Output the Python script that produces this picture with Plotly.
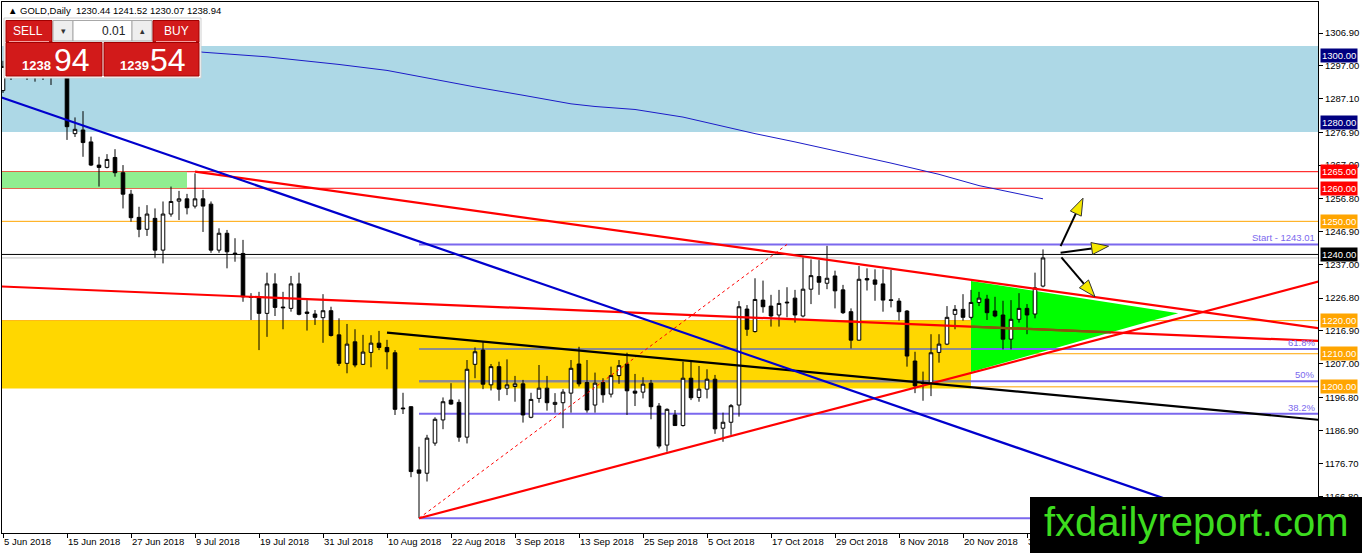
import math
import pandas as pd
import plotly.graph_objects as go

# ---------------- data ----------------
dates = list(pd.bdate_range("2018-06-05", "2018-12-04"))

opens = [1289.5, 1296.8, 1297.5, 1298.6, 1297.9, 1299.0, 1294.3, 1299.2, 1302.3, 1276.5,
         1277.6, 1274.0, 1267.0, 1266.3, 1269.3, 1264.7, 1258.2, 1251.2, 1247.6, 1250.9,
         1241.3, 1252.2, 1256.1, 1256.8, 1254.6, 1256.8, 1255.2, 1241.3, 1246.4, 1240.4,
         1240.3, 1227.3, 1227.2, 1222.2, 1231.1, 1224.1, 1223.7, 1231.1, 1222.6, 1222.0,
         1220.9, 1223.0, 1215.7, 1207.1, 1213.6, 1206.8, 1210.4, 1213.2, 1211.9, 1210.3,
         1193.6, 1194.0, 1174.9, 1173.9, 1183.0, 1190.0, 1196.0, 1195.3, 1184.8, 1206.8,
         1211.1, 1200.6, 1206.1, 1199.6, 1200.1, 1200.9, 1190.8, 1196.5, 1199.6, 1194.7,
         1195.2, 1198.1, 1206.9, 1201.3, 1194.5, 1201.3, 1197.8, 1203.4, 1206.9, 1198.7,
         1198.4, 1201.1, 1194.2, 1182.4, 1191.5, 1188.3, 1202.6, 1196.8, 1199.3, 1202.3,
         1187.5, 1189.3, 1194.5, 1223.5, 1216.7, 1226.2, 1224.4, 1221.7, 1225.6, 1226.8,
         1221.4, 1229.5, 1233.3, 1231.3, 1233.5, 1229.3, 1222.7, 1214.1, 1232.7, 1232.3,
         1231.1, 1226.3, 1225.9, 1222.9, 1207.8, 1201.2, 1201.1, 1210.4, 1212.9, 1221.9,
         1223.4, 1221.0, 1225.5, 1226.5, 1222.9, 1221.7, 1214.4, 1220.4, 1223.7, 1222.0,
         1230.44]
highs = [1298.5, 1300.5, 1303.0, 1302.5, 1301.8, 1300.5, 1300.0, 1309.0, 1307.5, 1281.4,
         1283.3, 1275.6, 1269.5, 1270.3, 1271.8, 1267.0, 1259.5, 1254.4, 1254.9, 1253.9,
         1256.0, 1260.5, 1259.2, 1258.3, 1264.5, 1259.5, 1256.0, 1247.9, 1247.4, 1244.9,
         1244.4, 1228.3, 1228.7, 1234.5, 1234.3, 1228.7, 1233.5, 1234.5, 1226.2, 1223.2,
         1228.0, 1224.2, 1220.7, 1219.0, 1217.4, 1215.7, 1215.6, 1216.9, 1214.2, 1211.1,
         1198.2, 1194.1, 1181.9, 1185.5, 1190.8, 1196.8, 1201.1, 1196.2, 1208.1, 1211.9,
         1213.6, 1206.9, 1207.6, 1208.3, 1203.3, 1202.1, 1198.2, 1206.6, 1203.3, 1198.1,
         1199.3, 1208.1, 1212.1, 1208.1, 1204.3, 1202.6, 1206.1, 1208.1, 1210.3, 1203.9,
         1202.9, 1202.1, 1195.1, 1193.5, 1193.0, 1207.6, 1207.6, 1206.3, 1205.3, 1203.6,
         1192.2, 1194.8, 1225.9, 1224.7, 1232.8, 1232.1, 1227.8, 1229.3, 1230.1, 1229.3,
         1239.1, 1238.5, 1238.3, 1242.6, 1235.1, 1230.8, 1223.7, 1236.5, 1235.8, 1235.5,
         1235.5, 1235.3, 1226.8, 1223.2, 1210.6, 1204.6, 1215.9, 1215.9, 1224.4, 1224.7,
         1228.0, 1229.3, 1228.7, 1227.8, 1227.2, 1226.0, 1226.2, 1228.3, 1225.0, 1234.5,
         1241.52]
lows = [1288.8, 1292.7, 1294.5, 1292.7, 1292.2, 1292.7, 1291.2, 1296.0, 1274.6, 1275.5,
        1269.5, 1266.7, 1260.5, 1266.0, 1263.5, 1253.9, 1249.9, 1245.2, 1245.6, 1239.0,
        1237.3, 1251.4, 1250.4, 1252.1, 1253.9, 1246.8, 1240.5, 1240.5, 1235.8, 1237.8,
        1225.7, 1220.2, 1211.1, 1215.1, 1221.4, 1217.4, 1222.7, 1221.6, 1217.0, 1218.7,
        1213.3, 1215.2, 1206.3, 1204.1, 1205.9, 1206.6, 1205.9, 1211.1, 1205.3, 1191.5,
        1191.8, 1172.7, 1160.3, 1171.4, 1182.2, 1187.2, 1194.6, 1183.4, 1182.9, 1202.6,
        1199.3, 1198.9, 1195.8, 1197.5, 1195.5, 1189.2, 1190.5, 1195.2, 1192.8, 1192.2,
        1187.5, 1192.2, 1200.1, 1192.2, 1192.2, 1195.2, 1196.8, 1200.9, 1191.5, 1194.2,
        1196.5, 1190.2, 1181.4, 1180.4, 1188.2, 1188.0, 1196.0, 1195.5, 1196.5, 1185.8,
        1183.4, 1185.5, 1191.0, 1215.4, 1216.4, 1222.4, 1218.2, 1218.2, 1221.0, 1219.4,
        1221.0, 1225.0, 1227.8, 1229.5, 1223.7, 1222.0, 1211.6, 1214.0, 1229.1, 1226.0,
        1222.7, 1224.0, 1220.0, 1206.1, 1198.1, 1195.8, 1197.2, 1207.3, 1212.6, 1217.4,
        1220.0, 1220.3, 1224.4, 1220.2, 1221.0, 1211.3, 1211.3, 1219.4, 1215.9, 1220.7,
        1230.07]
closes = [1296.8, 1297.5, 1298.6, 1297.9, 1299.0, 1294.3, 1299.2, 1302.3, 1278.6, 1277.8,
          1273.8, 1267.0, 1266.3, 1268.7, 1264.7, 1258.2, 1251.1, 1247.6, 1252.2, 1241.3,
          1252.2, 1256.0, 1256.8, 1254.1, 1256.8, 1254.6, 1241.3, 1246.4, 1240.8, 1240.2,
          1227.2, 1227.0, 1222.2, 1231.1, 1224.0, 1223.9, 1231.1, 1221.9, 1222.2, 1221.0,
          1223.0, 1215.5, 1207.1, 1212.9, 1206.6, 1210.5, 1213.2, 1211.9, 1210.6, 1193.2,
          1193.4, 1174.4, 1173.9, 1184.5, 1190.2, 1195.5, 1194.8, 1184.8, 1205.3, 1210.6,
          1200.8, 1206.1, 1199.3, 1200.6, 1200.9, 1191.5, 1196.2, 1199.6, 1195.2, 1195.3,
          1198.4, 1205.6, 1200.9, 1193.0, 1201.1, 1197.6, 1203.4, 1206.4, 1198.8, 1198.1,
          1200.8, 1194.0, 1182.1, 1193.2, 1188.3, 1202.6, 1196.7, 1199.3, 1202.3, 1187.3,
          1189.3, 1194.3, 1224.2, 1217.4, 1226.4, 1224.2, 1221.4, 1225.2, 1225.4, 1221.7,
          1229.5, 1233.6, 1231.6, 1232.8, 1229.0, 1222.4, 1214.1, 1232.5, 1232.3, 1231.0,
          1226.2, 1226.1, 1222.7, 1209.3, 1200.3, 1201.0, 1210.3, 1212.9, 1221.0, 1223.4,
          1221.0, 1225.5, 1226.8, 1222.4, 1221.4, 1214.4, 1220.4, 1223.7, 1221.7, 1229.9,
          1238.94]

# moving average (thin blue curve), read at selected bars
ma_bar = [20, 25, 33, 42, 48, 54, 59, 65, 71, 74, 79, 85, 89, 94, 99, 105, 111, 117, 122, 130]
ma_val = [1302.6, 1301.1, 1299.7, 1297.4, 1295.6, 1292.8, 1290.6, 1288.1, 1285.5, 1284.7,
          1283.8, 1281.5, 1279.3, 1276.5, 1274.0, 1270.9, 1267.6, 1264.2, 1260.8, 1256.8]

y_ticks = [1306.9, 1297.0, 1287.1, 1276.9, 1267.0, 1256.8, 1246.9, 1237.0,
           1226.8, 1216.9, 1207.0, 1196.8, 1186.9, 1176.7, 1166.8]
x_tick_bars = list(range(0, 131, 8))

hline_prices = [1300.0, 1280.0, 1265.0, 1260.0, 1250.0, 1240.0, 1220.0, 1210.0, 1200.0]
hline_kinds = ["navy", "navy", "red", "red", "orange", "black", "orange", "orange", "orange"]
bid_price = 1238.94
ask_price = 1239.54

# trend lines: two anchors (bar, price) each, drawn from trend_from to the right edge
trend_kinds = ["red", "red", "red", "black", "blue"]
trend_x1 = [24, 0, 52, 48, 0]
trend_p1 = [1265.0, 1230.3, 1160.3, 1216.4, 1287.3]
trend_x2 = [103, 100, 113, 120, 98]
trend_p2 = [1238.4, 1220.3, 1199.1, 1200.1, 1205.6]
trend_from = [24, -1, 52, 48, -1]

# fibonacci retracement
fib_x1, fib_p1 = 52, 1160.3
fib_x2, fib_p2 = 98, 1243.01
fib_levels = [0.0, 0.382, 0.5, 0.618, 1.0]
fib_texts = ["", "38.2%", "50%", "61.8%", "Start - 1243.01"]

# zones (rectangles)
zone_kinds = ["lightblue", "lightgreen", "gold"]
zone_x0 = [-1, -1, -1]
zone_x1 = [170, 23, 121]
zone_lo = [1277.0, 1260.0, 1199.5]
zone_hi = [1303.0, 1265.0, 1220.0]

# green triangle
tri_bar = [121, 121, 146.9]
tri_price = [1232.0, 1204.5, 1222.2]

# arrows
arrow_from_bar = [132.2, 132.2, 132.3]
arrow_from_p = [1242.5, 1240.5, 1239.1]
arrow_to_bar = [135.0, 138.2, 136.5]
arrow_to_p = [1257.0, 1242.5, 1227.2]

# ---------------- geometry ----------------
W, H = 1362, 553
ML, MR, MT, MB = 2, 44, 2, 20
XR = [-0.125, 164.375]
YR = [1155.84, 1316.27]
PW, PH = W - ML - MR, H - MT - MB
SX = PW / (XR[1] - XR[0])
SY = PH / (YR[1] - YR[0])


def to_px(b, p):
    return ML + (b - XR[0]) * SX, MT + (YR[1] - p) * SY


def to_data(px, py):
    return XR[0] + (px - ML) / SX, YR[1] - (py - MT) / SY


def paper(px, py):
    return (px - ML) / PW, 1 - (py - MT) / PH


FONT = "Liberation Sans, Arial, sans-serif"
COL = {"navy": "#000080", "red": "#FF0000", "orange": "#FFA500", "black": "#000000",
       "blue": "#0000CD", "lightblue": "#ADD8E6", "lightgreen": "#90EE90", "gold": "#FFD700"}
FIB_COL = "#7B68EE"

fig = go.Figure()
shapes = []
annotations = []

# zones (background)
for k, x0, x1, lo, hi in zip(zone_kinds, zone_x0, zone_x1, zone_lo, zone_hi):
    shapes.append(dict(type="rect", xref="x", yref="y", x0=x0, x1=x1, y0=lo, y1=hi,
                       fillcolor=COL[k], line=dict(width=0), layer="below"))

# triangle
tri_path = "M " + " L ".join(f"{b},{p}" for b, p in zip(tri_bar, tri_price)) + " Z"
shapes.append(dict(type="path", xref="x", yref="y", path=tri_path, fillcolor="#00FF00",
                   line=dict(width=0), layer="below"))

# horizontal level lines
for p, k in zip(hline_prices, hline_kinds):
    shapes.append(dict(type="line", xref="paper", yref="y", x0=0, x1=1, y0=p, y1=p,
                       line=dict(color=COL[k], width=1,
                                 dash="3px,3px" if k == "navy" else "solid"),
                       layer="below"))
shapes.append(dict(type="line", xref="paper", yref="y", x0=0, x1=1, y0=bid_price, y1=bid_price,
                   line=dict(color="#C0C0C0", width=1), layer="below"))

# fibonacci level lines
for lv in fib_levels:
    p = fib_p1 + lv * (fib_p2 - fib_p1)
    shapes.append(dict(type="line", xref="x", yref="y", x0=fib_x1, x1=XR[1] + 1, y0=p, y1=p,
                       line=dict(color=FIB_COL, width=2), layer="below"))
    if zone_lo[2] < p < zone_hi[2]:
        shapes.append(dict(type="line", xref="x", yref="y", x0=fib_x1, x1=zone_x1[2], y0=p, y1=p,
                           line=dict(color="#8C8C8C", width=2), layer="below"))

# candles
fig.add_trace(go.Candlestick(
    x=list(range(len(dates))), open=opens, high=highs, low=lows, close=closes,
    increasing=dict(line=dict(color="black", width=1), fillcolor="white"),
    decreasing=dict(line=dict(color="black", width=1), fillcolor="black"),
    whiskerwidth=0, hoverinfo="skip", showlegend=False))

# moving average
fig.add_trace(go.Scatter(x=ma_bar, y=ma_val, mode="lines", line=dict(color="#1C1CC8", width=1),
                         hoverinfo="skip", showlegend=False))

# fib dotted trend line
fig.add_trace(go.Scatter(x=[fib_x1, fib_x2], y=[fib_p1, fib_p2], mode="lines",
                         line=dict(color="#FF0000", width=1, dash="3px,3px"),
                         hoverinfo="skip", showlegend=False))

# trend lines
for k, x1, p1, x2, p2, xf in zip(trend_kinds, trend_x1, trend_p1, trend_x2, trend_p2, trend_from):
    slope = (p2 - p1) / (x2 - x1)
    xe = XR[1] + 2
    fig.add_trace(go.Scatter(x=[xf, xe], y=[p1 + slope * (xf - x1), p1 + slope * (xe - x1)],
                             mode="lines", line=dict(color=COL[k], width=2.2),
                             hoverinfo="skip", showlegend=False))

# lower red line tinted where it crosses the green triangle
k_slope = (trend_p2[1] - trend_p1[1]) / (trend_x2[1] - trend_x1[1])
tb0 = tri_bar[0]
e_slope = (tri_price[2] - tri_price[1]) / (tri_bar[2] - tri_bar[1])
xi = (trend_p1[1] - k_slope * trend_x1[1] - tri_price[1] + e_slope * tri_bar[1]) / (e_slope - k_slope)
fig.add_trace(go.Scatter(x=[tb0, xi],
                         y=[trend_p1[1] + k_slope * (tb0 - trend_x1[1]), trend_p1[1] + k_slope * (xi - trend_x1[1])],
                         mode="lines", line=dict(color="#7F5A10", width=2.2),
                         hoverinfo="skip", showlegend=False))

# arrows
for fb, fp, tb, tp in zip(arrow_from_bar, arrow_from_p, arrow_to_bar, arrow_to_p):
    x0, y0 = to_px(fb, fp)
    x1, y1 = to_px(tb, tp)
    dx, dy = x1 - x0, y1 - y0
    ln = math.hypot(dx, dy)
    ux, uy = dx / ln, dy / ln
    bx, by = x1 - 17 * ux, y1 - 17 * uy
    nx, ny = -uy, ux
    a = to_data(x0, y0)
    b = to_data(bx, by)
    shapes.append(dict(type="line", xref="x", yref="y", x0=a[0], y0=a[1], x1=b[0], y1=b[1],
                       line=dict(color="black", width=2), layer="above"))
    pts = [(x1, y1), (bx + 6 * nx, by + 6 * ny), (bx - 6 * nx, by - 6 * ny)]
    dpts = [to_data(*q) for q in pts]
    path = "M " + " L ".join(f"{q[0]:.4f},{q[1]:.4f}" for q in dpts) + " Z"
    shapes.append(dict(type="path", xref="x", yref="y", path=path, fillcolor="#F5E800",
                       line=dict(color="#333333", width=1), layer="above"))

# fib labels
for lv, t in zip(fib_levels, fib_texts):
    if not t:
        continue
    p = fib_p1 + lv * (fib_p2 - fib_p1)
    annotations.append(dict(x=XR[1] - 0.15, y=p, xref="x", yref="y", text=t, showarrow=False,
                            xanchor="right", yanchor="bottom", yshift=-1,
                            font=dict(family=FONT, size=9.5, color=FIB_COL)))

# price labels on the axis
for p, k in zip(hline_prices, hline_kinds):
    annotations.append(dict(x=paper(1320, 0)[0], y=p, xref="paper", yref="y", text=f"{p:.2f}",
                            showarrow=False, xanchor="left", yanchor="middle",
                            bgcolor=COL[k], borderpad=1,
                            font=dict(family=FONT, size=9.5, color="white")))

# title
annotations.append(dict(x=paper(6, 0)[0], y=paper(0, 10)[1], xref="paper", yref="paper",
                        text="\u25B2 GOLD,Daily  " + " ".join(f"{v:.2f}" for v in
                                                             (opens[-1], highs[-1], lows[-1], closes[-1])),
                        showarrow=False, xanchor="left", yanchor="middle",
                        font=dict(family=FONT, size=9.5, color="black")))


# ---------------- one-click trading panel ----------------
def prect(x0, y0, x1, y1, fill, line_col=None, lw=1):
    a = paper(x0, y0)
    b = paper(x1, y1)
    shapes.append(dict(type="rect", xref="paper", yref="paper", x0=a[0], y0=a[1], x1=b[0], y1=b[1],
                       fillcolor=fill, line=dict(color=line_col or fill, width=lw if line_col else 0),
                       layer="above"))


def ptext(x, y, t, size, color, anchor="center", bold=False):
    a = paper(x, y)
    annotations.append(dict(x=a[0], y=a[1], xref="paper", yref="paper",
                            text=f"<b>{t}</b>" if bold else t, showarrow=False,
                            xanchor=anchor, yanchor="middle",
                            font=dict(family=FONT, size=size, color=color)))


RED = "#D21A1A"
prect(4, 18, 201, 78, "white", "#D0D0D0")
prect(6, 20.5, 52, 42, RED, "#A00000")
prect(53, 20.5, 73, 41, "#EEEEEE", "#A8A8A8")
prect(73, 20.5, 132, 41, "white", "#A8A8A8")
prect(132, 20.5, 152, 41, "#EEEEEE", "#A8A8A8")
prect(153, 20.5, 199, 42, RED, "#A00000")
prect(6, 42.5, 102, 76, RED, "#A00000")
prect(104, 42.5, 199, 76, RED, "#A00000")
a = paper(9, 41.5); b = paper(49, 41.5)
shapes.append(dict(type="line", xref="paper", yref="paper", x0=a[0], y0=a[1], x1=b[0], y1=b[1],
                   line=dict(color="#F4A0A0", width=1), layer="above"))
a = paper(156, 41.5); b = paper(196, 41.5)
shapes.append(dict(type="line", xref="paper", yref="paper", x0=a[0], y0=a[1], x1=b[0], y1=b[1],
                   line=dict(color="#F4A0A0", width=1), layer="above"))
ptext(28, 30.5, "SELL", 12, "white")
ptext(176, 30.5, "BUY", 12, "white")
ptext(63, 30.5, "\u25BE", 9, "#333333")
ptext(142, 30.5, "\u25B4", 9, "#333333")
ptext(128, 30.5, "0.01", 12, "#222222", anchor="right")
sell_s = f"{bid_price:.2f}"
buy_s = f"{ask_price:.2f}"
ptext(36.5, 65.5, sell_s[:4], 13, "white", bold=True)
ptext(71.5, 59.5, sell_s[-2:], 32, "white")
ptext(134, 65.5, buy_s[:4], 13, "white", bold=True)
ptext(168.5, 59.5, buy_s[-2:], 32, "white")

# ---------------- watermark ----------------
prect(1030, 497, 1364, 555, "black")
ptext(1196, 522, "fxdailyreport.com", 40, "#3DDC1F")

fig.update_layout(
    width=W, height=H, margin=dict(l=ML, r=MR, t=MT, b=MB, pad=0),
    paper_bgcolor="white", plot_bgcolor="white", showlegend=False,
    boxgap=0.36, shapes=shapes, annotations=annotations, hovermode=False,
    xaxis=dict(range=XR, showgrid=False, zeroline=False, showline=True, linecolor="black",
               linewidth=1, mirror=True, ticks="outside", ticklen=4, tickcolor="black",
               tickvals=x_tick_bars,
               ticktext=[f"{dates[i].day} {dates[i].strftime('%b %Y')}" for i in x_tick_bars],
               ticklabelposition="outside right", tickangle=0,
               tickfont=dict(family=FONT, size=9.5, color="black"),
               rangeslider=dict(visible=False), fixedrange=True),
    yaxis=dict(range=YR, side="right", showgrid=False, zeroline=False, showline=True,
               linecolor="black", linewidth=1, mirror=True, ticks="outside", ticklen=4,
               tickcolor="black", tickvals=y_ticks, ticktext=[f"{v:.2f}" for v in y_ticks],
               tickfont=dict(family=FONT, size=9.5, color="black"), fixedrange=True),
)

fig.write_html("out.html", config=dict(displayModeBar=False),
               post_script="document.body.style.margin='0';document.body.style.overflow='hidden';")
